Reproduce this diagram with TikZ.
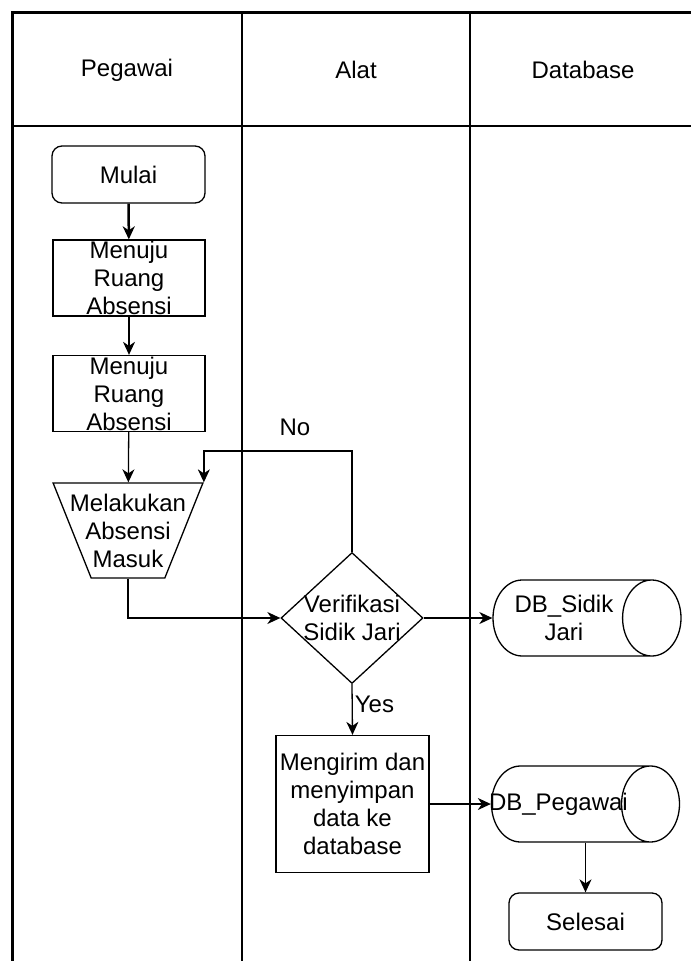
\documentclass[tikz,border=0pt]{standalone}
\usepackage{fontspec}
\setmainfont{Liberation Sans}
\usetikzlibrary{shapes.geometric,arrows.meta}
\begin{document}
\begin{tikzpicture}[x=1pt,y=-1pt,font=\fontsize{24}{28}\selectfont,
  lane/.style={line width=1.8pt},
  term/.style={draw,line width=1.3pt,rounded corners=10pt,minimum width=153pt,minimum height=57pt,inner sep=0pt},
  proc/.style={draw,line width=1.3pt,align=center,minimum width=152pt,minimum height=76pt,inner xsep=0pt,inner ysep=-8pt},
  absen/.style={draw,line width=1.3pt,trapezium,trapezium left angle=110,trapezium right angle=110,trapezium stretches=true,minimum width=150pt,minimum height=95pt,align=center,inner xsep=-30pt,inner ysep=3pt},
  decide/.style={draw,line width=1.3pt,diamond,minimum width=142pt,minimum height=131pt,align=center,inner sep=-18pt},
  store/.style={draw,line width=1.3pt,cylinder,aspect=1,minimum height=188pt,minimum width=76pt,align=center,inner xsep=-20pt,anchor=shape center},
  flow/.style={line width=1.3pt,-{Stealth[length=13pt,width=12pt,inset=4pt]}}]
\useasboundingbox (0,0) rectangle (691,961);
\draw[line width=3pt] (12,961) -- (12,12) -- (691,12);
\draw[lane] (12,126) -- (691,126);
\draw[lane] (242,12) -- (242,961);
\draw[lane] (470,12) -- (470,961);
\node (hpegawai) at (127,70) {Pegawai};
\node (halat) at (356,70) {Alat};
\node (hdatabase) at (583,70) {Database};
\node[term] (mulai) at (128.5,174.5) {Mulai};
\node[proc] (ruang1) at (129,278) {Menuju\\Ruang\\Absensi};
\node[proc] (ruang2) at (129,393.5) {Menuju\\Ruang\\Absensi};
\node[absen] (absensi) at (128,530.5) {Melakukan\\Absensi\\Masuk};
\node[decide] (verif) at (352,618) {Verifikasi\\Sidik Jari};
\node[store,inner ysep=6.4pt] (dbsidik) at (587,618) {DB\_Sidik\\Jari};
\node[proc,minimum width=153pt,minimum height=137pt] (kirim) at (352.5,804) {Mengirim dan\\menyimpan\\data ke\\database};
\node[store,inner ysep=17.8pt] (dbpegawai) at (585.5,804) {DB\_Pegawai};
\node[term] (selesai) at (585.5,921.5) {Selesai};
\node (no) at (295,427) {No};
\coordinate (balik) at (352,451);
\draw[flow,line width=2.5pt] (mulai) -- (ruang1);
\draw[flow] (ruang1) -- (ruang2);
\draw[flow] (ruang2) -- (absensi);
\draw[flow] (verif.north) -- (balik) -| (absensi.top right corner);
\draw[flow] (absensi.south) |- (verif.west);
\draw[flow] (verif.east) -- (dbsidik.west);
\draw[flow] (verif.south) -- node[pos=0.4,right,inner sep=2pt] (yes) {Yes} (kirim.north);
\draw[flow] (kirim.east) -- (dbpegawai.west);
\draw[flow] (dbpegawai.shape center |- dbpegawai.south) -- (selesai.north);
\end{tikzpicture}
\end{document}
